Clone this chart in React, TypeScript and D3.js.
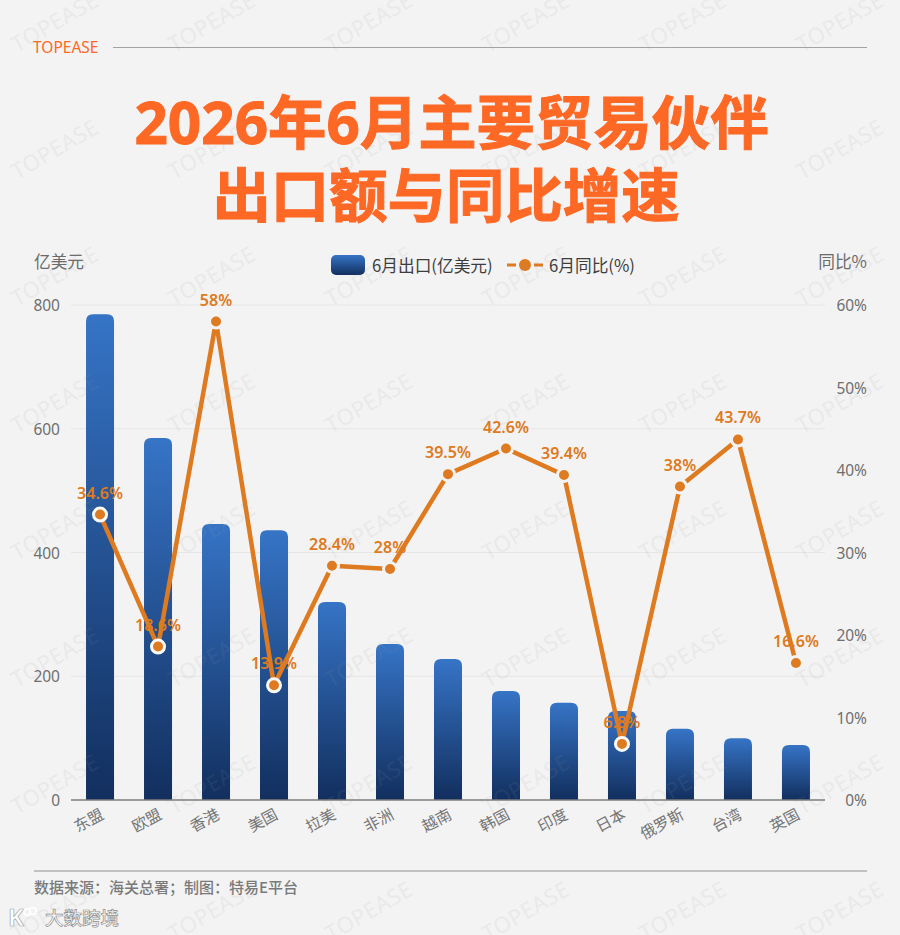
import { scaleBand, scaleLinear, line, range } from 'd3'

const categories = ['东盟', '欧盟', '香港', '美国', '拉美', '非洲', '越南', '韩国', '印度', '日本', '俄罗斯', '台湾', '英国']
const exports_ = [785, 585, 446, 436, 320, 252, 228, 176, 157, 144, 115, 100, 89]
const growth = [34.6, 18.6, 58, 13.9, 28.4, 28, 39.5, 42.6, 39.4, 6.8, 38, 43.7, 16.6]
const leftTicks = [0, 200, 400, 600, 800]
const rightTicks = [0, 10, 20, 30, 40, 50, 60]

const FONT = '"Noto Sans", "Noto Sans CJK SC", sans-serif'
const CJK = '"Noto Sans CJK SC", sans-serif'
const ORANGE = '#fd6825'
const LINE = '#de7a20'
const BG = '#f3f3f3'

export default function App() {
  const width = 900
  const height = 935
  const top = 305
  const bottom = 800
  const left = 71
  const right = 825

  const x = scaleBand<string>().domain(categories).range([left, right]).paddingInner(0.517).paddingOuter(0.259)
  const yBar = scaleLinear().domain([0, 800]).range([bottom, top])
  const yRate = scaleLinear().domain([0, 60]).range([bottom, top])
  const cx = (i: number) => (x(categories[i]) as number) + x.bandwidth() / 2

  const path = line<number>()
    .x((_, i) => cx(i))
    .y((d) => yRate(d))(growth) as string

  function barPath(i: number) {
    const bx = x(categories[i]) as number
    const w = x.bandwidth()
    const t = yBar(exports_[i])
    const r = 7
    return `M${bx},${bottom}V${t + r}Q${bx},${t} ${bx + r},${t}H${bx + w - r}Q${bx + w},${t} ${bx + w},${t + r}V${bottom}Z`
  }

  return (
    <svg
      width={width}
      height={height}
      viewBox={`0 0 ${width} ${height}`}
      style={{ position: 'absolute', left: 0, top: 0, display: 'block', background: BG }}
    >
      <defs>
        <linearGradient id="barFill" x1="0" y1="0" x2="0" y2="1">
          <stop offset="0%" stopColor="#3674c6" />
          <stop offset="100%" stopColor="#122f5e" />
        </linearGradient>
      </defs>

      <text x={33} y={52.5} fontFamily={FONT} fontSize={15.5} fill={ORANGE}>TOPEASE</text>
      <line x1={113} x2={867} y1={47.5} y2={47.5} stroke="#a3a3a3" strokeWidth={1.2} />

      <text x={451.5} y={144} textAnchor="middle" fontFamily={FONT} fontSize={58.4} fontWeight={700} fill={ORANGE} stroke={ORANGE} strokeWidth={1}>2026年6月主要贸易伙伴</text>
      <text x={446} y={217} textAnchor="middle" fontFamily={CJK} fontSize={58.4} fontWeight={700} fill={ORANGE} stroke={ORANGE} strokeWidth={1}>出口额与同比增速</text>

      <text x={34} y={268} fontFamily={CJK} fontSize={16.7} fill="#6b6b6b">亿美元</text>
      <text x={867} y={268} textAnchor="end" fontFamily={CJK} fontSize={16.7} fill="#6b6b6b">同比%</text>

      <rect x={331} y={255} width={34} height={20} rx={5} fill="url(#barFill)" />
      <text x={372} y={272} fontFamily={CJK} fontSize={16.7} fill="#3d3d3d">6月出口(亿美元)</text>
      <line x1={507} x2={543} y1={265} y2={265} stroke={LINE} strokeWidth={3} strokeDasharray="9 18" />
      <circle cx={525} cy={265} r={6} fill={LINE} />
      <text x={549} y={272} fontFamily={CJK} fontSize={16.7} fill="#3d3d3d">6月同比(%)</text>

      {leftTicks.slice(1).map((t) => (
        <line key={t} x1={left} x2={right} y1={yBar(t)} y2={yBar(t)} stroke="#e6e6e6" strokeWidth={1} />
      ))}
      {leftTicks.map((t) => (
        <text key={t} x={60} y={yBar(t) + 6} textAnchor="end" fontFamily={FONT} fontSize={15.5} fill="#6f6f6f">{t}</text>
      ))}
      {rightTicks.map((t) => (
        <text key={t} x={867} y={yRate(t) + 6} textAnchor="end" fontFamily={FONT} fontSize={15.5} fill="#6f6f6f">{t}%</text>
      ))}

      {categories.map((c, i) => (
        <path key={c} d={barPath(i)} fill="url(#barFill)" />
      ))}
      <line x1={left} x2={right} y1={bottom} y2={bottom} stroke="#7d7d7d" strokeWidth={1.5} />

      {categories.map((c, i) => (
        <text
          key={c}
          transform={`translate(${cx(i) + 5},${818}) rotate(-28)`}
          textAnchor="end"
          fontFamily={CJK}
          fontSize={15.5}
          fill="#757575"
        >
          {c}
        </text>
      ))}

      {growth.map((d, i) => (
        <text
          key={i}
          x={cx(i)}
          y={yRate(d) - 16}
          textAnchor="middle"
          fontFamily={FONT}
          fontSize={16}
          fontWeight={600}
          fill={LINE}
        >
          {d}%
        </text>
      ))}

      <path d={path} fill="none" stroke={LINE} strokeWidth={4.5} strokeLinejoin="round" />
      {growth.map((d, i) => (
        <circle
          key={i}
          cx={cx(i)}
          cy={yRate(d)}
          r={6.5}
          fill={LINE}
          stroke={yRate(d) > yBar(exports_[i]) ? '#fafafa' : BG}
          strokeWidth={3}
        />
      ))}

      <line x1={34} x2={867} y1={871} y2={871} stroke="#8f8f8f" strokeWidth={1.2} />
      <text x={34} y={893} fontFamily={CJK} fontSize={15} fontWeight={500} fill="#7a7a7a">数据来源：海关总署；制图：特易E平台</text>

      <g>
        <text x={8} y={926} fontFamily={FONT} fontSize={24} fontWeight={700} fill="#fff" stroke="#a8a8a8" strokeWidth={0.7}>K</text>
        <circle cx={27} cy={912} r={3.2} fill="none" stroke="#fff" strokeWidth={1.6} />
        <circle cx={33} cy={911} r={3.2} fill="none" stroke="#fff" strokeWidth={1.6} />
        <text x={45} y={925} fontFamily={CJK} fontSize={18.5} fontWeight={500} fill="#fff" stroke="#8f8f8f" strokeWidth={0.7}>大数跨境</text>
      </g>

      {range(-1, 8).map((row) =>
        range(0, 6).map((col) => (
          <text
            key={`${row}-${col}`}
            transform={`translate(${17 + col * 157},${53 + row * 127}) rotate(-30)`}
            fontFamily={FONT}
            fontSize={22}
            letterSpacing={0.5}
            fill="#9a9a9a"
            opacity={0.1}
          >
            TOPEASE
          </text>
        )),
      )}
    </svg>
  )
}
